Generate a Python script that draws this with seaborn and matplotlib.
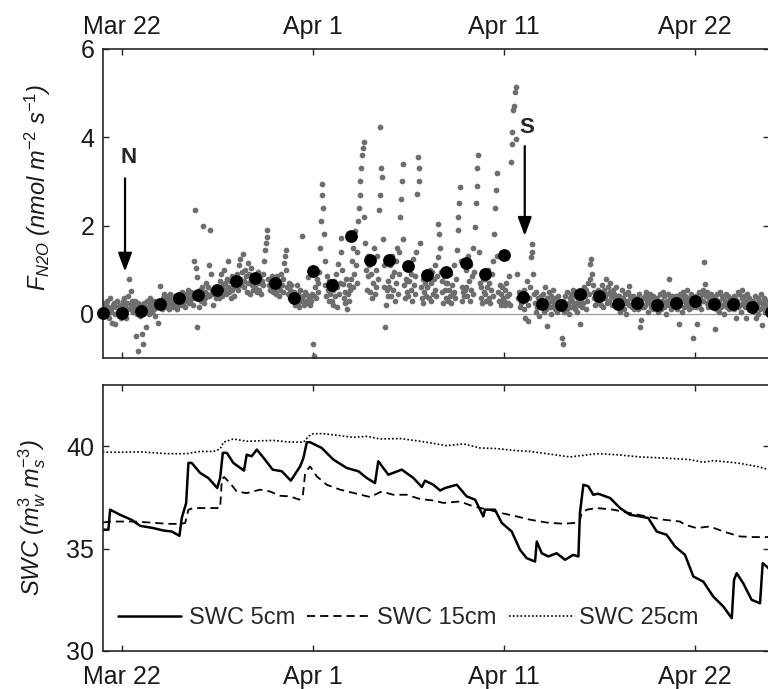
import matplotlib
matplotlib.use("Agg")
import numpy as np
import pandas as pd
import seaborn as sns
import matplotlib.pyplot as plt

# ---------------- data ----------------
# x axis: day of year (81 = Mar 22)
tick_days = [81, 91, 101, 111]
tick_labels = ["Mar 22", "Apr 1", "Apr 11", "Apr 22"]

# hourly N2O flux (nmol m-2 s-1), 24 values per day, starting at day 80
flux_mar = [
    0.10,0.25,0.05,-0.05,0.20,0.30,0.00,0.15,-0.10,0.35,0.05,0.10,-0.20,0.20,0.25,0.00,-0.23,0.15,0.30,0.05,-0.05,0.10,0.20,-0.10,
    0.15,0.30,0.05,0.35,0.20,-0.10,0.25,0.10,0.40,0.79,0.10,0.52,0.20,0.30,0.05,0.15,0.30,0.25,-0.50,0.00,-0.84,0.25,0.10,-0.05,
    0.20,-0.46,0.10,-0.68,0.25,0.05,-0.30,0.15,0.30,0.10,0.00,0.20,0.35,0.25,0.05,0.15,0.30,0.10,-0.05,0.20,0.25,0.15,-0.20,0.30,
    0.62,0.20,0.30,0.10,0.35,0.45,0.25,0.15,0.40,0.30,0.20,0.10,0.35,0.45,0.25,0.30,0.15,0.40,0.20,0.35,0.25,0.10,0.30,0.20,
    0.30,0.45,0.20,0.35,0.50,0.25,0.40,0.30,0.15,0.45,0.35,0.55,0.40,0.25,0.30,0.50,0.35,0.20,0.40,1.20,2.36,1.05,0.83,-0.30,
    0.40,0.15,0.55,0.30,0.45,0.60,1.98,0.25,0.50,0.35,0.70,0.45,0.60,0.40,1.10,1.90,0.90,0.55,0.45,0.20,0.50,0.60,0.35,0.45,
    0.45,0.60,0.35,0.75,0.50,0.90,0.40,0.65,1.00,0.55,0.70,0.45,0.80,1.20,0.60,0.50,0.75,0.35,0.85,0.55,0.65,0.40,0.70,0.60,
    0.70,0.90,0.55,1.10,0.80,1.25,0.65,0.95,1.36,0.75,0.60,1.00,0.85,0.50,1.15,0.70,0.90,0.45,0.80,1.05,0.65,0.55,0.75,0.85,
    0.60,0.80,0.50,0.95,0.70,0.55,0.85,0.45,0.75,0.65,0.90,1.20,1.44,1.60,1.75,1.90,0.80,0.65,0.55,0.70,0.60,0.85,0.50,0.65,
    0.50,0.70,0.45,0.85,0.60,0.40,0.75,0.55,0.90,0.65,0.50,0.80,1.15,1.30,1.44,1.00,0.60,0.45,0.70,0.35,0.55,0.65,0.40,0.50,
    0.30,0.50,0.20,0.40,0.65,0.25,0.45,0.15,0.55,0.35,0.30,1.76,0.40,0.20,0.50,0.30,0.45,0.25,0.83,0.35,0.20,0.40,0.30,0.45,
]
flux_apr_a = [
    -0.68,-0.95,0.40,0.60,0.35,0.80,0.50,0.70,0.95,1.50,2.10,2.95,2.70,2.40,1.80,1.20,0.65,0.40,0.85,0.55,0.30,0.75,0.45,0.60,
    0.30,0.55,0.20,0.75,0.40,0.90,0.15,0.60,1.13,0.45,0.70,1.72,1.40,1.00,0.68,0.35,0.50,0.25,0.80,0.10,0.45,0.65,0.30,0.55,
    0.80,1.20,0.60,1.50,0.90,1.88,1.10,0.70,1.40,2.10,2.40,2.70,3.00,3.30,3.60,3.75,3.90,2.20,1.60,1.00,0.53,1.30,0.85,1.10,
    0.50,0.90,0.35,1.20,0.70,1.50,0.45,1.00,0.60,1.30,0.80,2.35,2.70,4.23,3.30,3.10,1.70,1.10,0.60,-0.30,0.20,0.55,0.40,0.75,
    0.60,1.10,0.40,0.85,1.30,0.55,0.95,0.30,1.20,0.70,1.50,0.45,0.90,1.40,2.20,2.60,3.00,3.40,1.70,0.65,0.35,0.80,0.50,0.75,
    0.40,0.75,1.10,0.55,0.90,0.30,1.25,0.65,0.45,0.85,1.40,2.72,3.55,3.30,3.00,1.60,0.60,0.35,0.80,0.25,0.50,0.70,0.40,0.60,
    0.60,0.90,0.35,1.00,0.70,0.30,0.95,0.45,0.80,1.10,0.55,0.40,0.85,1.28,2.04,1.80,1.50,0.95,0.50,0.75,0.25,0.85,0.55,0.70,
    0.35,0.70,0.30,0.55,0.90,0.40,0.25,0.65,0.45,1.10,0.50,0.35,0.80,1.44,1.90,2.20,2.50,2.87,1.20,0.60,0.30,0.50,0.40,0.55,
    0.60,1.00,0.40,1.30,0.75,0.30,1.10,0.55,0.85,1.50,0.45,0.95,1.96,2.50,2.90,3.30,3.60,1.40,0.70,0.35,0.60,0.25,0.80,0.50,
    0.45,0.80,0.30,0.60,1.00,0.35,0.70,0.25,0.55,0.90,0.40,1.20,1.81,2.40,2.80,3.20,1.30,0.50,0.30,0.65,0.20,0.45,0.60,0.35,
    0.30,0.55,0.20,0.70,0.40,0.25,0.85,0.45,0.20,3.44,3.84,4.12,4.61,4.70,5.03,5.13,3.97,0.90,0.35,0.50,0.15,0.40,0.25,0.35,
]
flux_apr_b = [
    0.30,0.10,0.55,-0.10,0.40,0.75,0.20,-0.16,0.35,0.60,1.28,1.58,1.40,0.90,0.45,0.25,0.05,0.50,0.15,0.35,-0.05,0.30,0.20,0.40,
    0.20,0.45,0.05,0.30,0.60,0.10,0.35,-0.27,0.25,0.50,0.15,0.40,0.00,0.30,0.55,0.20,0.10,0.35,0.25,0.05,0.40,0.15,0.30,0.20,
    0.15,-0.54,-0.69,0.30,0.05,0.40,0.20,0.10,0.50,0.25,0.00,0.35,0.45,0.15,0.30,0.55,0.20,0.10,0.40,0.25,0.05,0.35,0.20,0.30,
    -0.24,0.35,0.15,0.50,0.25,0.60,0.40,0.10,0.55,0.30,0.70,0.45,0.80,1.13,1.24,0.90,0.65,0.35,0.50,0.20,0.40,0.30,0.55,0.25,
    0.30,0.50,0.20,0.65,0.40,0.15,0.55,0.35,0.79,0.45,0.25,0.60,0.30,0.50,0.70,0.40,0.20,0.55,0.35,0.45,0.25,0.60,0.30,0.40,
    0.20,0.40,0.05,0.30,0.55,0.15,0.35,0.10,0.45,0.25,0.00,0.30,0.50,0.20,0.64,0.40,0.35,0.15,0.40,0.25,0.10,0.30,0.20,0.35,
    0.30,0.10,0.45,-0.30,-0.15,0.25,0.15,0.35,0.15,0.40,0.20,0.50,0.30,0.05,0.35,0.25,0.45,0.15,0.30,0.40,0.10,0.35,0.20,0.30,
    0.15,0.35,0.05,0.25,0.45,0.20,0.10,0.30,0.50,0.15,0.40,0.25,0.00,0.30,0.20,0.45,0.79,0.35,0.10,0.25,0.40,0.15,0.30,0.20,
    0.25,0.40,0.10,0.30,-0.22,0.45,0.20,0.35,0.05,0.50,0.30,0.15,0.40,0.25,0.55,0.20,0.35,0.10,0.30,0.45,0.15,0.25,-0.54,0.35,
    0.30,0.15,0.40,-0.22,0.25,0.50,0.20,0.35,0.10,0.45,0.30,0.55,1.17,0.67,0.40,0.25,0.50,0.15,0.35,0.30,0.45,0.20,0.40,0.25,
    0.20,-0.35,0.35,0.10,0.45,0.25,0.05,0.30,0.50,0.15,0.40,0.20,0.35,0.00,0.30,0.45,0.15,0.25,0.40,0.10,0.35,0.20,0.30,0.15,
    0.25,0.40,0.10,0.35,-0.10,0.30,0.50,0.15,0.45,0.20,0.05,0.35,0.55,0.25,0.40,0.15,0.30,-0.10,0.45,0.20,0.35,0.10,0.30,0.25,
    0.15,0.30,0.05,0.25,0.40,-0.10,0.20,0.35,0.00,0.30,0.10,0.45,0.25,-0.25,0.15,0.35,0.05,0.20,0.30,0.10,0.25,0.15,0.35,0.20,
]

# daily mean flux
daily_day = list(range(80, 116))
daily_mean = [0.02, 0.02, 0.07, 0.22, 0.36, 0.42, 0.54, 0.75, 0.82, 0.70, 0.36, 0.98,
              0.66, 1.76, 1.23, 1.21, 1.08, 0.89, 0.95, 1.16, 0.91, 1.33, 0.39, 0.23,
              0.20, 0.46, 0.41, 0.23, 0.25, 0.20, 0.24, 0.30, 0.22, 0.23, 0.16, 0.05]

# soil water content
swc5_day = [80.0, 80.3, 80.39, 80.91, 81.52, 81.96, 82.65, 83.18, 83.62, 84.02, 84.14, 84.37,
            84.49, 84.66, 85.1, 85.53, 86.0, 86.15, 86.29, 86.5, 86.84, 87.4, 87.54, 87.8,
            88.07, 88.5, 88.9, 89.38, 89.85, 90.34, 90.51, 90.69, 90.86, 91.47, 92.08, 92.78,
            93.39, 93.83, 94.26, 94.43, 94.96, 95.66, 96.27, 96.71, 96.88, 97.31, 97.67, 97.93,
            98.54, 99.06, 99.5, 99.76, 99.93, 100.02, 100.54, 100.9, 101.42, 101.85, 102.2, 102.64,
            102.73, 102.99, 103.34, 103.77, 104.21, 104.64, 104.91, 104.99, 105.17, 105.43, 105.69, 105.95,
            106.57, 107.09, 107.61, 108.14, 108.57, 109.01, 109.53, 109.97, 110.49, 110.93, 111.45, 111.97,
            112.5, 112.94, 113.06, 113.2, 113.54, 113.98, 114.42, 114.56, 114.77, 115.0]
swc5 = [35.92, 35.92, 36.9, 36.65, 36.4, 36.11, 36.0, 35.88, 35.83, 35.62, 36.49, 37.22,
        39.19, 39.19, 38.7, 38.45, 37.96, 38.45, 39.68, 39.68, 39.19, 38.81, 39.59, 39.51,
        39.84, 39.35, 38.86, 38.78, 38.32, 39.02, 39.43, 40.2, 40.2, 39.92, 39.35, 38.94,
        38.78, 38.45, 38.2, 39.27, 38.61, 38.86, 38.45, 38.01, 38.32, 38.12, 37.84, 37.96,
        38.12, 37.55, 37.39, 36.9, 36.57, 36.9, 36.9, 36.25, 35.83, 34.94, 34.53, 34.36,
        35.34, 34.77, 34.61, 34.77, 34.45, 34.69, 34.61, 36.73, 38.12, 38.04, 37.63, 37.68,
        37.47, 36.98, 36.65, 36.57, 36.49, 35.83, 35.67, 35.1, 34.69, 33.63, 33.38, 32.65,
        32.16, 31.59, 33.47, 33.79, 33.3, 32.49, 32.32, 34.28, 34.12, 33.9]

swc15_day = [80.0, 80.39, 81.61, 82.48, 83.36, 84.05, 84.32, 84.49, 84.75, 86.15, 86.24, 86.36,
             86.67, 87.02, 87.54, 88.24, 88.76, 89.29, 89.81, 90.3, 90.48, 90.6, 90.86, 91.21,
             91.73, 92.43, 93.3, 94.0, 94.61, 95.22, 95.92, 96.62, 97.31, 97.84, 98.71, 99.41,
             100.19, 100.9, 101.68, 102.38, 103.25, 104.12, 104.96, 105.08, 105.35, 105.87, 106.74, 107.61,
             108.49, 109.36, 110.23, 110.49, 111.1, 111.8, 112.5, 113.37, 114.07, 114.77, 115.0]
swc15 = [36.27, 36.32, 36.32, 36.27, 36.21, 36.2, 36.25, 36.9, 36.98, 36.98, 38.37, 38.5,
         38.2, 37.79, 37.71, 37.88, 37.79, 37.58, 37.55, 37.39, 37.55, 38.7, 39.02, 38.53,
         38.12, 37.88, 37.68, 37.52, 37.79, 37.63, 37.63, 37.42, 37.35, 37.23, 37.3, 37.06,
         36.9, 36.73, 36.57, 36.41, 36.27, 36.21, 36.27, 36.73, 36.9, 36.98, 36.9, 36.73,
         36.57, 36.41, 36.32, 36.16, 36.0, 36.08, 35.83, 35.59, 35.56, 35.56, 35.55]

swc25_day = [80.0, 80.91, 81.96, 83.36, 84.4, 85.1, 85.8, 86.15, 86.32, 86.84, 87.54, 88.94,
             89.64, 90.51, 90.8, 91.03, 91.55, 92.43, 93.13, 93.83, 94.52, 95.57, 96.62, 97.14,
             98.01, 98.88, 99.76, 100.63, 101.5, 102.38, 103.25, 104.47, 105.87, 106.92, 108.14, 109.36,
             110.75, 111.45, 111.97, 113.2, 114.25, 114.77, 115.0]
swc25 = [39.71, 39.71, 39.73, 39.64, 39.64, 39.75, 39.75, 39.87, 40.2, 40.36, 40.25, 40.29,
         40.22, 40.2, 40.5, 40.62, 40.62, 40.52, 40.44, 40.49, 40.36, 40.38, 40.25, 40.17,
         40.03, 40.12, 39.92, 39.89, 39.8, 39.75, 39.64, 39.48, 39.64, 39.59, 39.48, 39.43,
         39.35, 39.22, 39.3, 39.19, 39.02, 38.89, 38.87]

legend_labels = ["SWC 5cm", "SWC 15cm", "SWC 25cm"]

# ---------------- style ----------------
sns.set_theme(style="white")
plt.rcParams["font.family"] = ["Liberation Sans", "DejaVu Sans"]
plt.rcParams["mathtext.fontset"] = "custom"
plt.rcParams["mathtext.rm"] = "Liberation Sans"
plt.rcParams["mathtext.it"] = "Liberation Sans:italic"
plt.rcParams["mathtext.default"] = "it"

FS = 17
TFS = 18
spine_c = "#262626"

fig = plt.figure(figsize=(7.68, 6.89), dpi=100)
ax1 = fig.add_axes([0.1337, 0.4804, 0.8676, 0.4485])
ax2 = fig.add_axes([0.1337, 0.0556, 0.8676, 0.3856])

x0, x1 = 80.0, 114.89

# ---------------- top panel ----------------
flux_all = flux_mar + flux_apr_a + flux_apr_b
flux_df = pd.DataFrame({"day": 80 + np.arange(len(flux_all)) / 24.0, "flux": flux_all})
daily_df = pd.DataFrame({"day": daily_day, "flux": daily_mean})

ax1.axhline(0, color="#9a9a9a", lw=0.9, zorder=1)
sns.scatterplot(data=flux_df, x="day", y="flux", ax=ax1, color="#6e6e6e",
                s=17, linewidth=0, zorder=2, legend=False)
sns.scatterplot(data=daily_df, x="day", y="flux", ax=ax1, color="black",
                s=85, linewidth=0, zorder=3, legend=False, clip_on=False)

ax1.set_xlim(x0, x1)
ax1.set_ylim(-1, 6)
ax1.set_yticks([0, 2, 4, 6])
ax1.set_xticks(tick_days)
ax1.set_xticklabels(tick_labels)
ax1.tick_params(axis="x", top=True, bottom=True, labeltop=True, labelbottom=False,
                direction="in", length=4, width=1, colors=spine_c, labelsize=TFS, pad=7)
ax1.tick_params(axis="y", left=True, right=True, direction="in", length=4, width=1,
                colors=spine_c, labelsize=TFS, pad=6)
ax1.set_xlabel("")
ax1.set_ylabel(r"$F_{\mathregular{N2O}}$ (nmol m$^{-2}$ s$^{-1}$)", fontsize=FS,
               style="italic", color="#1a1a1a")
ax1.yaxis.set_label_coords(-0.075, 0.553)

# annotations N and S
ax1.annotate("", xy=(81.17, 0.96), xytext=(81.17, 3.07),
             arrowprops=dict(arrowstyle="-|>,head_length=0.8,head_width=0.3",
                             lw=1.6, color="black", mutation_scale=14, shrinkA=0, shrinkB=0))
ax1.text(81.33, 3.55, "N", fontsize=16, fontweight="bold", ha="center", va="center")
ax1.annotate("", xy=(102.1, 1.77), xytext=(102.1, 3.8),
             arrowprops=dict(arrowstyle="-|>,head_length=0.8,head_width=0.3",
                             lw=1.6, color="black", mutation_scale=14, shrinkA=0, shrinkB=0))
ax1.text(102.2, 4.23, "S", fontsize=16, fontweight="bold", ha="center", va="center")

# ---------------- bottom panel ----------------
sns.lineplot(x=swc5_day, y=swc5, ax=ax2, color="black", lw=1.8, sort=False,
             estimator=None, label=legend_labels[0])
sns.lineplot(x=swc15_day, y=swc15, ax=ax2, color="black", lw=1.3, sort=False,
             estimator=None, label=legend_labels[1], linestyle=(0, (4.5, 2.8)))
sns.lineplot(x=swc25_day, y=swc25, ax=ax2, color="black", lw=1.2, sort=False,
             estimator=None, label=legend_labels[2], linestyle=(0, (1, 1.3)))

ax2.set_xlim(x0, x1)
ax2.set_ylim(30, 43)
ax2.set_yticks([30, 35, 40])
ax2.set_xticks(tick_days)
ax2.set_xticklabels(tick_labels)
ax2.tick_params(axis="x", top=True, bottom=True, direction="in", length=4, width=1,
                colors=spine_c, labelsize=TFS, pad=10)
ax2.tick_params(axis="y", left=True, right=True, direction="in", length=4, width=1,
                colors=spine_c, labelsize=TFS, pad=6)
ax2.set_xlabel("")
ax2.set_ylabel(r"SWC (m$^{3}_{w}$ m$^{-3}_{s}$)", fontsize=FS, style="italic", color="#1a1a1a")
ax2.yaxis.set_label_coords(-0.082, 0.5)

leg = ax2.legend(loc="center", bbox_to_anchor=(0.4586, 0.123), ncol=3, frameon=False,
                 fontsize=FS, handlelength=2.7, handletextpad=0.3, columnspacing=0.5,
                 borderaxespad=0)

for ax in (ax1, ax2):
    for sp in ax.spines.values():
        sp.set_color(spine_c)
        sp.set_linewidth(1.2)
        sp.set_visible(True)
    for lab in ax.get_xticklabels() + ax.get_yticklabels():
        lab.set_color("#1a1a1a")

fig.savefig("out.png", dpi=100)
